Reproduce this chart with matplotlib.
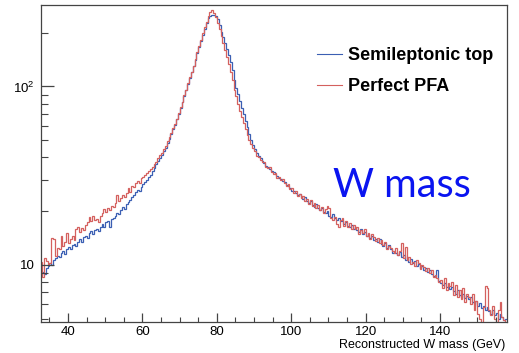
import numpy as np
import matplotlib
matplotlib.use('Agg')
import matplotlib.pyplot as plt
from matplotlib.ticker import MultipleLocator, LogLocator, NullFormatter
from matplotlib.lines import Line2D

plt.rcParams['font.family'] = ['Liberation Sans', 'DejaVu Sans']
plt.rcParams['mathtext.default'] = 'regular'

# ---- data: 0.5 GeV bins starting at 32.5 GeV ----
bin_start = 32.5
bin_width = 0.5

semileptonic_top = [
    8.8, 9.1, 8.9, 9.6, 9.8, 10.3, 10.0, 10.6, 10.9, 11.2,
    11.0, 11.6, 11.9, 11.5, 12.3, 12.6, 12.2, 12.9, 13.1, 12.8,
    13.5, 13.9, 13.4, 14.3, 14.6, 14.2, 15.0, 15.4, 14.9, 15.6,
    15.9, 15.5, 16.4, 16.9, 16.3, 17.3, 17.6, 16.2, 18.0, 18.4,
    18.9, 19.6, 19.2, 20.3, 21.0, 20.6, 21.9, 22.6, 23.2, 24.1,
    24.6, 25.5, 26.2, 25.9, 27.4, 28.3, 29.1, 29.8, 30.9, 31.8,
    33.5, 34.8, 36.6, 38.2, 39.6, 41.5, 43.2, 45.4, 48.0, 50.5,
    54.0, 57.5, 61.0, 65.5, 70.5, 76.0, 81.5, 88.0, 95.0, 103,
    112, 120, 130, 141, 153, 166, 180, 195, 210, 226,
    242, 249, 251, 250, 247, 238, 222, 203, 190, 175,
    163, 150, 137, 124, 108, 98, 91, 83, 76, 70,
    64, 59, 54, 50, 47, 44.5, 42.5, 41, 39.5, 38.3,
    37.2, 36.0, 35.2, 34.5, 33.6, 33.0, 32.1, 31.5, 30.7, 30.2,
    29.6, 29.0, 28.1, 27.8, 27.0, 26.1, 25.8, 25.2, 24.6, 24.9,
    24.0, 23.5, 23.9, 22.8, 22.3, 22.9, 21.6, 21.2, 21.8, 20.7,
    20.4, 20.9, 19.8, 19.5, 20.1, 18.9, 18.6, 19.2, 18.2, 17.9,
    18.3, 17.5, 17.8, 16.9, 17.4, 16.6, 16.2, 16.8, 15.9, 16.3,
    15.6, 15.2, 15.8, 14.8, 15.3, 14.5, 14.9, 14.1, 14.6, 13.8,
    14.0, 13.5, 13.9, 13.1, 12.7, 13.3, 12.4, 12.9, 12.2, 11.6,
    12.0, 11.7, 11.3, 11.8, 11.0, 11.4, 10.7, 11.0, 10.4, 10.8,
    10.2, 10.5, 9.9, 10.1, 9.6, 9.9, 9.3, 9.6, 9.1, 9.4,
    8.9, 8.7, 8.5, 9.3, 8.1, 7.9, 7.7, 7.9, 7.5, 7.6,
    7.3, 7.5, 7.1, 6.9, 7.2, 6.8, 6.6, 6.9, 6.5, 6.7,
    6.4, 6.6, 6.2, 6.0, 6.3, 5.9, 6.1, 5.7, 5.9, 5.6,
    5.8, 5.5, 5.3, 5.6, 5.2, 5.4, 5.0, 5.3, 5.1, 4.9,
    5.0,
]

perfect_pfa = [
    10.4, 8.6, 10.9, 10.5, 10.1, 10.2, 14.1, 14.0, 11.2, 12.5,
    12.2, 14.6, 12.8, 13.4, 15.0, 13.2, 13.9, 14.6, 13.8, 15.9,
    16.3, 15.2, 16.0, 15.6, 16.8, 17.4, 18.5, 17.6, 18.9, 17.8,
    18.0, 17.3, 18.8, 19.6, 20.5, 19.8, 20.9, 20.2, 21.4, 21.0,
    22.3, 24.5, 22.8, 23.7, 24.6, 23.9, 25.4, 26.8, 25.6, 27.6,
    27.2, 28.6, 29.4, 28.8, 30.5, 31.2, 31.8, 32.9, 33.4, 34.6,
    35.2, 36.8, 37.6, 39.8, 41.2, 42.3, 44.8, 46.2, 49.5, 51.8,
    55.0, 58.2, 61.5, 66.0, 71.2, 76.4, 82.0, 89.0, 96.0, 104,
    113, 121, 131, 143, 155, 169, 183, 199, 215, 231,
    248, 260, 268, 259, 244, 228, 210, 192, 176, 160,
    146, 133, 120, 108, 96, 88, 80, 73, 67, 62,
    57.5, 53.5, 50.0, 47.5, 45.2, 43.5, 41.0, 40.0, 38.5, 37.6,
    37.8, 35.4, 34.8, 35.2, 33.0, 32.5, 32.9, 30.8, 31.2, 29.7,
    30.1, 28.6, 27.5, 28.3, 26.6, 27.0, 25.4, 26.1, 24.3, 25.0,
    23.6, 24.4, 22.9, 23.3, 22.0, 23.0, 21.3, 22.2, 20.8, 21.6,
    20.2, 21.1, 19.6, 20.6, 21.5, 20.9, 18.4, 17.8, 18.6, 17.0,
    16.2, 17.8, 18.2, 16.6, 17.6, 16.4, 17.2, 15.8, 16.7, 15.9,
    16.3, 14.9, 15.6, 15.1, 15.9, 14.6, 15.0, 13.9, 14.8, 14.4,
    13.6, 14.2, 13.2, 13.7, 12.9, 13.5, 12.2, 12.8, 12.5, 12.0,
    11.6, 12.4, 11.4, 11.9, 13.2, 10.9, 12.6, 10.6, 11.0, 10.1,
    10.4, 9.8, 10.6, 10.2, 9.5, 10.0, 9.7, 9.2, 9.6, 9.0,
    9.3, 8.6, 8.8, 8.4, 8.0, 8.2, 7.4, 8.4, 7.2, 7.9,
    7.6, 8.0, 6.8, 7.7, 6.6, 7.2, 6.4, 7.4, 6.2, 6.9,
    6.6, 6.0, 6.9, 5.6, 6.3, 5.3, 5.0, 4.7, 5.8, 7.6,
    7.4, 5.6, 5.2, 5.9, 5.0, 4.8, 5.6, 6.2, 5.1, 4.9,
    4.7,
]

series_labels = ['Semileptonic top', 'Perfect PFA']
x_label = 'Reconstructed W mass (GeV)'
y_tick_values = [10, 100]
y_tick_labels = ['10', '$10^{2}$']

edges = bin_start + bin_width * np.arange(len(semileptonic_top) + 1)

BLUE = '#3b5fb3'
RED = '#d4605e'

W, H = 519, 353
fig = plt.figure(figsize=(W / 100, H / 100), dpi=100)
L, R, T, B = 40.7, 506.7, 5.3, 321.7
ax = fig.add_axes([L / W, 1 - B / H, (R - L) / W, (B - T) / H])

ax.stairs(semileptonic_top, edges, color=BLUE, lw=0.9, baseline=None)
ax.stairs(perfect_pfa, edges, color=RED, lw=0.9, baseline=None)

ax.set_yscale('log')
ax.set_xlim(32.65, 157.9)
ax.set_ylim(4.8, 285)

ax.xaxis.set_major_locator(MultipleLocator(20))
ax.xaxis.set_minor_locator(MultipleLocator(5))
ax.set_yticks(y_tick_values)
ax.set_yticklabels(y_tick_labels)
ax.yaxis.set_minor_locator(LogLocator(base=10, subs=range(2, 10)))
ax.yaxis.set_minor_formatter(NullFormatter())

ax.tick_params(which='both', direction='in', top=False, right=False,
               colors='#444444', labelcolor='black', labelsize=9.5)
ax.tick_params(axis='x', which='major', length=6.5, width=0.9, pad=3)
ax.tick_params(axis='x', which='minor', length=3.3, width=0.8)
ax.tick_params(axis='y', which='major', length=9.4, width=0.9, pad=4.3)
ax.tick_params(axis='y', which='minor', length=4.8, width=0.8)

for s in ax.spines.values():
    s.set_color('#444444')
    s.set_linewidth(0.9)

ax.set_xlabel(x_label, fontsize=9, loc='right')
ax.xaxis.set_label_coords((505 - L) / (R - L), (B - 347.7) / (B - T))
ax.xaxis.label.set_va('baseline')

handles = [Line2D([], [], color=BLUE, lw=0.8), Line2D([], [], color=RED, lw=0.8)]
ax.legend(handles, series_labels, loc='upper left',
          bbox_to_anchor=(317.3 / W, 1 - 47.5 / H), bbox_transform=fig.transFigure,
          frameon=False, prop={'weight': 'bold', 'size': 13},
          handlelength=1.39, handletextpad=0.33, labelspacing=0.74,
          borderpad=0, borderaxespad=0)

fig.text(333 / W, 1 - 197 / H, 'W mass', color='#0a14f0', fontsize=28.5,
         family=['Lato', 'DejaVu Sans'], va='baseline', ha='left')

fig.savefig('out.png', dpi=100)
